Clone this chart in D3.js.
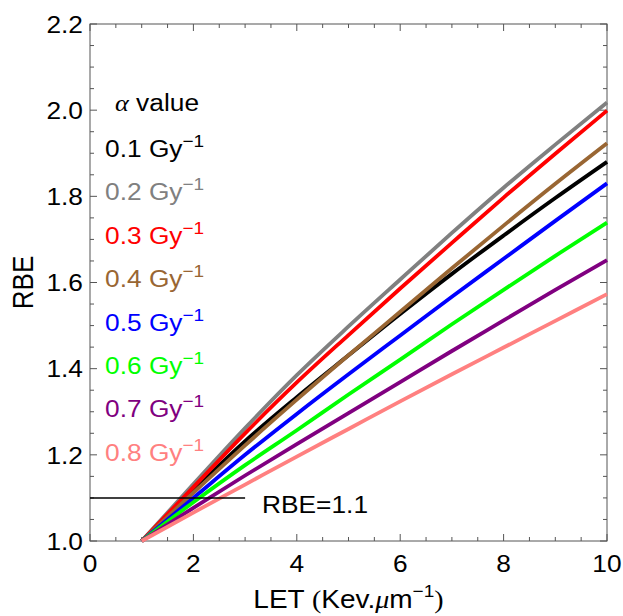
<!DOCTYPE html>
<html>
<head>
<meta charset="utf-8">
<script src="https://cdn.jsdelivr.net/npm/d3@7"></script>
<style>
  body { margin: 0; background: #fff; }
  svg { display: block; }
</style>
</head>
<body>
<svg id="chart" width="623" height="616"></svg>
<script>
// LET values (keV/µm) at which RBE was sampled
const letValues = [1, 2, 3, 4, 5, 6, 7, 8, 9, 10];

// RBE for each alpha value (Gy^-1)
const rbeAlpha01 = [1.000, 1.118, 1.232, 1.334, 1.431, 1.527, 1.620, 1.709, 1.796, 1.880];
const rbeAlpha02 = [1.000, 1.132, 1.262, 1.385, 1.498, 1.607, 1.715, 1.820, 1.920, 2.018];
const rbeAlpha03 = [1.000, 1.125, 1.250, 1.368, 1.478, 1.586, 1.692, 1.797, 1.899, 1.999];
const rbeAlpha04 = [1.000, 1.112, 1.222, 1.328, 1.431, 1.532, 1.633, 1.732, 1.829, 1.923];
const rbeAlpha05 = [1.000, 1.100, 1.200, 1.295, 1.387, 1.477, 1.567, 1.655, 1.743, 1.830];
const rbeAlpha06 = [1.000, 1.090, 1.176, 1.257, 1.340, 1.421, 1.503, 1.583, 1.662, 1.739];
const rbeAlpha07 = [1.000, 1.077, 1.152, 1.225, 1.297, 1.369, 1.441, 1.512, 1.583, 1.652];
const rbeAlpha08 = [1.000, 1.066, 1.131, 1.196, 1.260, 1.324, 1.387, 1.449, 1.511, 1.573];

const alphaLabels = ["0.1", "0.2", "0.3", "0.4", "0.5", "0.6", "0.7", "0.8"];
const seriesValues = [rbeAlpha01, rbeAlpha02, rbeAlpha03, rbeAlpha04,
                      rbeAlpha05, rbeAlpha06, rbeAlpha07, rbeAlpha08];

// Reference level RBE = 1.1, drawn over LET 0..3
const thresholdRBE = 1.1;
const thresholdLET = [0, 3];

const xTickValues = [0, 2, 4, 6, 8, 10];
const yTickValues = [1.0, 1.2, 1.4, 1.6, 1.8, 2.0, 2.2];

// Styling
const seriesColors = ["#000000", "#808080", "#ff0000", "#996633",
                      "#0000ff", "#00ff00", "#800080", "#ff8080"];
const frameColor = "#555";
const stretch = 1.12;          // horizontal text stretch
const labelFont = 23.5;
const sansFont = "'Liberation Sans', Arial, sans-serif";
const serifFont = "'Liberation Serif', 'Times New Roman', serif";

const svg = d3.select("#chart");
const x = d3.scaleLinear().domain([0, 10]).range([90, 607]);
const y = d3.scaleLinear().domain([1.0, 2.2]).range([541, 24]);

function stretchedText(parent, px, py, anchor, size) {
  return parent.append("text")
    .attr("transform", `translate(${px},${py}) scale(${stretch},1)`)
    .attr("text-anchor", anchor)
    .attr("font-family", sansFont)
    .attr("font-size", size);
}

// Frame
svg.append("rect")
  .attr("x", x(0)).attr("y", y(2.2))
  .attr("width", x(10) - x(0)).attr("height", y(1.0) - y(2.2))
  .attr("fill", "none").attr("stroke", frameColor).attr("stroke-width", 1);

// Frame ticks (inward on all four sides)
const ticks = svg.append("g").attr("stroke", frameColor).attr("stroke-width", 1);
const xMinor = d3.range(0, 10.0001, 0.5);
xMinor.forEach(v => {
  const major = Math.abs(v / 2 - Math.round(v / 2)) < 1e-6;
  const len = major ? 7 : 4;
  ticks.append("line").attr("x1", x(v)).attr("x2", x(v))
    .attr("y1", y(1.0)).attr("y2", y(1.0) - len);
  ticks.append("line").attr("x1", x(v)).attr("x2", x(v))
    .attr("y1", y(2.2)).attr("y2", y(2.2) + len);
});
const yMinor = d3.range(0, 25).map(i => 1.0 + i * 0.05);
yMinor.forEach((v, i) => {
  const major = i % 4 === 0;
  const len = major ? 7 : 4;
  ticks.append("line").attr("y1", y(v)).attr("y2", y(v))
    .attr("x1", x(0)).attr("x2", x(0) + len);
  ticks.append("line").attr("y1", y(v)).attr("y2", y(v))
    .attr("x1", x(10)).attr("x2", x(10) - len);
});

// Tick labels
xTickValues.forEach(v => {
  stretchedText(svg, x(v), 572, "middle", labelFont).text(d3.format("d")(v));
});
yTickValues.forEach(v => {
  stretchedText(svg, 83, y(v) + 8.8, "end", labelFont).text(d3.format(".1f")(v));
});

// RBE curves
const line = d3.line()
  .x((d, i) => x(letValues[i]))
  .y(d => y(d))
  .curve(d3.curveMonotoneX);

svg.append("g").selectAll("path")
  .data(seriesValues)
  .join("path")
  .attr("d", d => line(d))
  .attr("fill", "none")
  .attr("stroke", (d, i) => seriesColors[i])
  .attr("stroke-width", 3.8)
  .attr("stroke-linejoin", "round");

// RBE = 1.1 reference line and its label
svg.append("line")
  .attr("x1", x(thresholdLET[0])).attr("x2", x(thresholdLET[1]))
  .attr("y1", y(thresholdRBE)).attr("y2", y(thresholdRBE))
  .attr("stroke", "#000").attr("stroke-width", 1.5);
stretchedText(svg, 262, 513, "start", labelFont).text("RBE=1.1");

// Legend
const legendTitle = stretchedText(svg, 115, 111, "start", labelFont);
legendTitle.append("tspan").attr("font-family", serifFont).attr("font-style", "italic").text("α");
legendTitle.append("tspan").text(" value");

alphaLabels.forEach((lab, i) => {
  const t = stretchedText(svg, 105, 157 + i * 43.4, "start", labelFont)
    .attr("fill", seriesColors[i]);
  t.append("tspan").text(lab + " Gy");
  t.append("tspan").attr("font-size", 17).attr("dy", -10).text("−1");
});

// Axis titles
const xTitle = svg.append("text")
  .attr("transform", `translate(${(x(0) + x(10)) / 2},608) scale(${stretch},1)`)
  .attr("text-anchor", "middle")
  .attr("font-family", sansFont)
  .attr("font-size", 25);
xTitle.append("tspan").text("LET ");
xTitle.append("tspan").attr("font-family", serifFont).text("(");
xTitle.append("tspan").text("Kev.");
xTitle.append("tspan").attr("font-family", serifFont).attr("font-style", "italic").text("μ");
xTitle.append("tspan").text("m");
xTitle.append("tspan").attr("font-size", 17).attr("dy", -11).text("−1");
xTitle.append("tspan").attr("font-family", serifFont).attr("dy", 11).text(")");

svg.append("text")
  .attr("transform", `translate(33,${(y(1.0) + y(2.2)) / 2}) rotate(-90) scale(1,${stretch})`)
  .attr("text-anchor", "middle")
  .attr("font-family", sansFont)
  .attr("font-size", 26)
  .text("RBE");
</script>
</body>
</html>
